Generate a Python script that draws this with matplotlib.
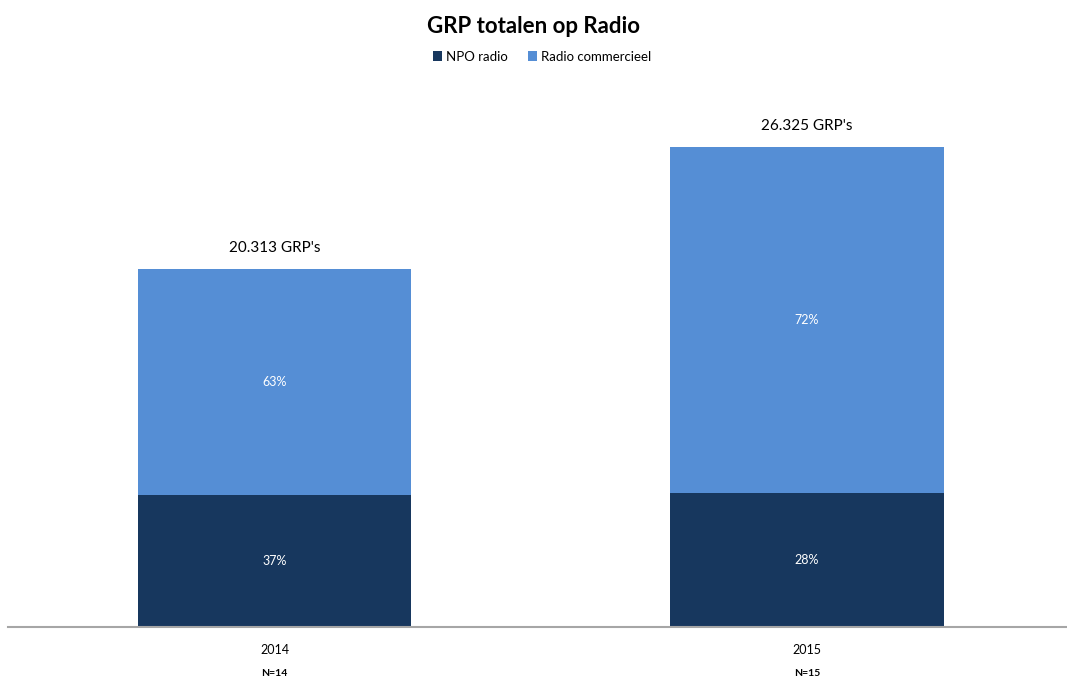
import numpy as np
import matplotlib.pyplot as plt
from matplotlib.transforms import blended_transform_factory

# data
years = ["2014", "2015"]
n_labels = ["N=14", "N=15"]
npo_grp = [7230, 7370]          # segment heights as drawn
commercial_grp = [12400, 18955]
totals = [20313, 26325]         # labels above bars
npo_pct = [37, 28]
commercial_pct = [63, 72]

NPO_COLOR = "#17375e"
COM_COLOR = "#558ed5"

plt.rcParams['font.family'] = ['Lato', 'DejaVu Sans']

fig = plt.figure(figsize=(10.67, 6.82), dpi=100)
ax = fig.add_axes([8.25 / 1067, (682 - 627) / 682, 1 - 8.25 / 1067, 527 / 682])

x = np.arange(len(years))
width = 0.513

b1 = ax.bar(x, npo_grp, width, color=NPO_COLOR, label="NPO radio")
b2 = ax.bar(x, commercial_grp, width, bottom=npo_grp, color=COM_COLOR,
            label="Radio commercieel")

# percentage labels inside the segments
for i in range(len(years)):
    ax.text(x[i], npo_grp[i] / 2, f"{npo_pct[i]}%", ha="center", va="center",
            color="white", fontsize=9)
    ax.text(x[i], npo_grp[i] + commercial_grp[i] / 2, f"{commercial_pct[i]}%",
            ha="center", va="center", color="white", fontsize=9)
    top = npo_grp[i] + commercial_grp[i]
    label = f"{totals[i]:,}".replace(",", ".") + " GRP's"
    ax.annotate(label, (x[i], top), xytext=(0, 10), textcoords="offset points",
                ha="center", va="bottom", fontsize=11)

ax.set_xlim(-0.5, (1067 - 274.5) / 532.5)
ax.set_ylim(0, 28921)

ax.set_xticks(x)
ax.set_xticklabels(years, fontsize=9)
ax.tick_params(axis="x", length=0, pad=12)
ax.set_yticks([])

trans = blended_transform_factory(ax.transData, ax.transAxes)
for i in range(len(years)):
    ax.text(x[i], -0.089, n_labels[i], transform=trans, ha="center", va="center",
            fontsize=7.5, fontweight="bold")

for side in ["top", "right", "left"]:
    ax.spines[side].set_visible(False)
ax.spines["bottom"].set_color("#a6a6a6")
ax.spines["bottom"].set_linewidth(1.5)

fig.suptitle("GRP totalen op Radio", y=0.977, fontsize=16, fontweight="bold")
fig.legend(handles=[b1, b2], loc="center", bbox_to_anchor=(0.508, 0.917), ncol=2,
           frameon=False, fontsize=9.5, handlelength=0.7, handleheight=0.7,
           handletextpad=0.3, columnspacing=1.5)

fig.savefig("out.png", dpi=100)
